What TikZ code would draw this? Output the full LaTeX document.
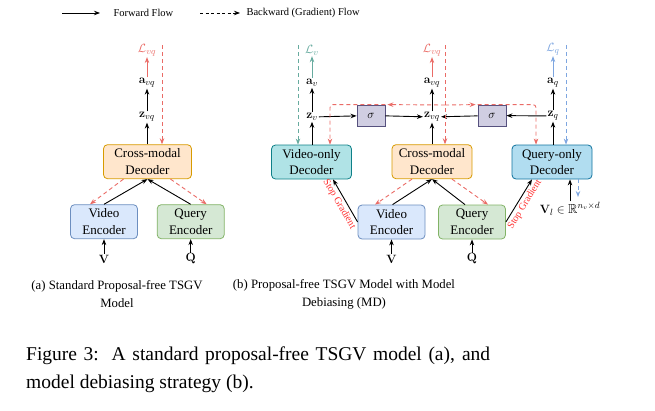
\documentclass[tikz,border=0pt]{standalone}
\usepackage[no-math]{fontspec}
\setmainfont{Liberation Serif}
\usepackage{amssymb}
\usetikzlibrary{arrows.meta,positioning,calc}

\definecolor{gradred}{HTML}{EA6B66}
\definecolor{gradteal}{HTML}{67AB9F}
\definecolor{gradblue}{HTML}{7EA6E0}
\definecolor{stopred}{HTML}{FF3333}
\definecolor{cmfill}{HTML}{FFE6CC}
\definecolor{cmdraw}{HTML}{D79B00}
\definecolor{vencfill}{HTML}{DAE8FC}
\definecolor{vencdraw}{HTML}{6C8EBF}
\definecolor{qencfill}{HTML}{D5E8D4}
\definecolor{qencdraw}{HTML}{82B366}
\definecolor{vdecfill}{HTML}{B0E3E6}
\definecolor{vdecdraw}{HTML}{0E8088}
\definecolor{qdecfill}{HTML}{B1DDF0}
\definecolor{qdecdraw}{HTML}{10739E}
\definecolor{sigfill}{HTML}{D0CEE2}
\definecolor{sigdraw}{HTML}{56517E}

\begin{document}
\begin{tikzpicture}[x=1pt, y=-1pt,
			block/.style={rectangle, draw, line width=0.8pt, rounded corners=4pt,
				minimum width=80pt, minimum height=34pt, inner sep=1pt, align=center,
				font=\fontsize{13}{16.5}\selectfont},
			enc/.style={block, minimum width=67pt},
			line/.style={draw, line width=0.9pt, -{Stealth[length=6pt,width=4.5pt]}},
			grad/.style={line, draw=gradred, dash pattern=on 4pt off 3pt},
			lbl/.style={inner sep=1pt, font=\fontsize{13}{15}\selectfont},
			sigbox/.style={rectangle, draw=sigdraw, fill=sigfill, line width=0.8pt,
				minimum width=28pt, minimum height=21pt, inner sep=0pt,
				font=\fontsize{13}{15}\selectfont},
			stopgrad/.style={text=stopred, font=\fontsize{10}{11}\selectfont, inner sep=2pt}]
			
			\useasboundingbox (0,0) rectangle (655,410);
			
			% Legend
			\coordinate (fs) at (62,13);
			\coordinate (fe) at (100,13);
			\draw[line, line width=0.8pt] (fs) -- (fe);
			\node[anchor=west, font=\fontsize{10.5}{12}\selectfont] (fwd) at (110,13) {Forward Flow};
			\coordinate (bs) at (200,13);
			\coordinate (be) at (240,13);
			\draw[line, line width=0.8pt, dash pattern=on 3pt off 2.5pt] (bs) -- (be);
			\node[anchor=west, font=\fontsize{10.5}{12}\selectfont] (bwd) at (243,13) {Backward (Gradient) Flow};
			
			% (a) Standard model
			\node[block, minimum width=88pt, fill=cmfill, draw=cmdraw] (cmA) at (147.5,161.7) {Cross-modal\\Decoder};
			\node[enc, fill=vencfill, draw=vencdraw] (vencA) at (104,221.7) {Video\\Encoder};
			\node[enc, fill=qencfill, draw=qencdraw] (qencA) at (190.7,221.7) {Query\\Encoder};
			\node[lbl] (vA) at (104,259) {$\mathbf{V}$};
			\node[lbl] (qA) at (190.7,259) {$\mathbf{Q}$};
			\node[lbl] (zA) at (147,117) {$\mathbf{z}_{vq}$};
			\node[lbl] (aA) at (147,83) {$\mathbf{a}_{vq}$};
			\node[lbl, text=gradred] (lA) at (147,50) {$\mathcal{L}_{vq}$};
			\coordinate (gA) at (162,45);
			\path[line] (vA) -- (vencA);
			\path[line] (qA) -- (qencA);
			\path[line] (vencA.north) -- (cmA.south);
			\path[line] (qencA.north) -- (cmA.south);
			\path[line] (cmA.north -| zA) -- (zA);
			\path[line] (zA) -- (aA);
			\path[line, draw=gradred] (aA) -- (lA);
			\path[grad] (gA) -- (gA |- cmA.north);
			\path[grad] ($(cmA.south)+(-24,0)$) -- ($(vencA.north)+(-14,0)$);
			\path[grad] ($(cmA.south)+(23,0)$) -- ($(qencA.north)+(16,0)$);
			
			% (b) Model debiasing
			\node[block, fill=vdecfill, draw=vdecdraw] (vdec) at (311.5,162) {Video-only\\Decoder};
			\node[block, fill=cmfill, draw=cmdraw] (cmB) at (432,161.7) {Cross-modal\\Decoder};
			\node[block, fill=qdecfill, draw=qdecdraw] (qdec) at (552,162) {Query-only\\Decoder};
			\node[enc, fill=vencfill, draw=vencdraw] (vencB) at (391.5,222) {Video\\Encoder};
			\node[enc, fill=qencfill, draw=qencdraw] (qencB) at (472,222) {Query\\Encoder};
			\node[sigbox] (sigL) at (371,115.5) {$\sigma$};
			\node[sigbox] (sigR) at (492,115.5) {$\sigma$};
			\node[lbl] (vB) at (391.5,259) {$\mathbf{V}$};
			\node[lbl] (qB) at (472,259) {$\mathbf{Q}$};
			\node[lbl] (zv) at (312,117) {$\mathbf{z}_{v}$};
			\node[lbl] (av) at (312,83) {$\mathbf{a}_{v}$};
			\node[lbl, text=gradteal] (lv) at (312,50) {$\mathcal{L}_{v}$};
			\node[lbl] (zvq) at (432,117) {$\mathbf{z}_{vq}$};
			\node[lbl] (avq) at (432,83) {$\mathbf{a}_{vq}$};
			\node[lbl, text=gradred] (lvq) at (432,50) {$\mathcal{L}_{vq}$};
			\node[lbl] (zq) at (553,116) {$\mathbf{z}_{q}$};
			\node[lbl] (aq) at (553,83) {$\mathbf{a}_{q}$};
			\node[lbl, text=gradblue] (lq) at (553,49) {$\mathcal{L}_{q}$};
			\node[lbl] (vl) at (570,209) {$\mathbf{V}_l\in\mathbb{R}^{n_v\times d}$};
			\coordinate (gv) at (298,45);
			\coordinate (gvq) at (445,45);
			\coordinate (gq) at (566,45);
			\coordinate (jn) at (445,105);
			\coordinate (gout) at (578,197);
			
			% forward
			\path[line] (vB) -- (vencB);
			\path[line] (qB) -- (qencB);
			\path[line] ($(vencB.north)+(1,0)$) -- (cmB.south);
			\path[line] ($(qencB.north)+(-7,0)$) -- (cmB.south);
			\path[line] (vencB.west) -- ($(vdec.south)+(21.5,0)$)
				node[midway, sloped, below, stopgrad] {Stop Gradient};
			\path[line] (qencB.east) -- ($(qdec.south)+(-20,0)$)
				node[midway, sloped, below, stopgrad] {Stop Gradient};
			\path[line] (vl.north) -- (vl.north |- qdec.south);
			\path[line] (vdec.north -| zv) -- (zv);
			\path[line] (zv) -- (av);
			\path[line, draw=gradteal] (av) -- (lv);
			\path[line] (cmB.north -| zvq) -- (zvq);
			\path[line] (zvq) -- (avq);
			\path[line, draw=gradred] (avq) -- (lvq);
			\path[line] (qdec.north -| zq) -- (zq);
			\path[line] (zq) -- (aq);
			\path[line, draw=gradblue] (aq) -- (lq);
			\path[line] (zv) -- (sigL);
			\path[line] (sigL) -- (zvq);
			\path[line] (zq) -- (sigR);
			\path[line] (sigR) -- (zvq);
			
			% backward
			\path[grad, draw=gradteal] (gv) -- (gv |- vdec.north);
			\path[grad, draw=gradblue] (gq) -- (gq |- qdec.north);
			\path[grad, draw=gradblue] (qdec.south -| gout) -- (gout);
			\path[grad] (gvq) -- (gvq |- cmB.north);
			\path[grad] (jn) -- ($(sigL.north east)+(2,0)$);
			\path[grad, rounded corners=3pt] (sigL.north east) -| ($(vdec.north)+(18.5,0)$);
			\path[grad] (jn) -- ($(sigR.north west)+(-2,0)$);
			\path[grad, rounded corners=3pt] (sigR.north west) -| ($(qdec.north)+(-16,0)$);
			\path[grad] ($(cmB.south)+(-20,0)$) -- ($(vencB.north)+(-16.5,0)$);
			\path[grad] ($(cmB.south)+(20,0)$) -- ($(qencB.north)+(16,0)$);
			
			% Captions
			\node[align=center, font=\fontsize{12.75}{18}\selectfont] (capA) at (117,294) {(a) Standard Proposal-free TSGV\\Model};
			\node[align=center, font=\fontsize{12.75}{18}\selectfont] (capB) at (344,294) {(b) Proposal-free TSGV Model with Model\\Debiasing (MD)};
			\node[anchor=north west, inner sep=0pt, text width=464pt, align=justify,
				font=\fontsize{19.5}{28}\selectfont] (fig) at (26,347)
				{Figure 3:\hspace{0.15em} A standard proposal-free TSGV model (a), and model debiasing strategy (b).};
		\end{tikzpicture}
\end{document}
